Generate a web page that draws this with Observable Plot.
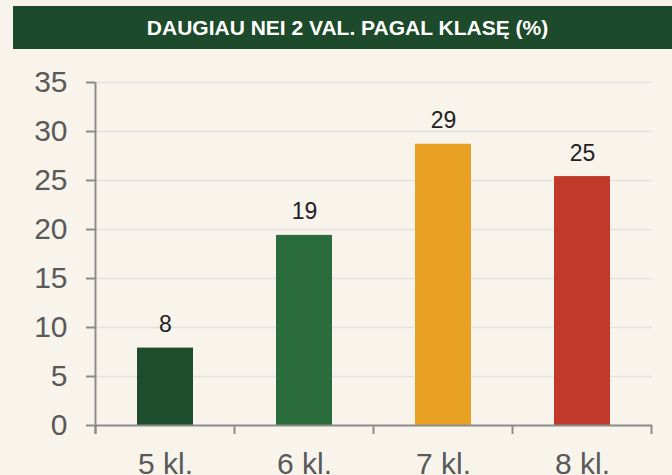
<!DOCTYPE html>
<html>
<head>
<meta charset="utf-8">
<script src="https://cdn.jsdelivr.net/npm/d3@7"></script>
<script src="https://cdn.jsdelivr.net/npm/@observablehq/plot@0.6"></script>
<style>
  html, body { margin: 0; padding: 0; background: #f8f4ec; }
  body { width: 672px; height: 475px; overflow: hidden; font-family: "Liberation Sans", Arial, sans-serif; }
  #banner {
    margin: 6px 0 0 13px; height: 43px; background: #1d4a2a; color: #fff;
    font-weight: bold; font-size: 21px; display: flex; align-items: center;
    justify-content: center; padding-left: 10px; box-sizing: border-box;
  }
  #chart svg { display: block; }
</style>
</head>
<body>
<div id="banner">DAUGIAU NEI 2 VAL. PAGAL KLASĘ (%)</div>
<div id="chart"></div>
<script>
const categories = ["5 kl.", "6 kl.", "7 kl.", "8 kl."];
const values = [7.9, 19.4, 28.7, 25.4];
const valueLabels = ["8", "19", "29", "25"];
const barColors = ["#1e4d2b", "#2b6c3d", "#e8a122", "#c0392b"];
const yTicks = [0, 5, 10, 15, 20, 25, 30, 35];

const data = categories.map((c, i) => ({cat: c, value: values[i], label: valueLabels[i]}));

const axisColor = "#8c8c8c";
const textColor = "#595959";

const xBoundaryTicks = (index, scales, vals, dims) => {
  const x = scales.x;
  const step = typeof x.step === "function" ? x.step() : (dims.width - dims.marginLeft - dims.marginRight) / categories.length;
  const bw = typeof x.bandwidth === "function" ? x.bandwidth() : step * 0.4;
  const gap = (step - bw) / 2;
  const bounds = categories.map(c => x(c) - gap);
  bounds.push(x(categories[categories.length - 1]) + bw + gap);
  const y0 = scales.y(0);
  const g = d3.create("svg:g").attr("stroke", axisColor).attr("stroke-width", 2);
  g.selectAll("line").data(bounds).join("line")
    .attr("x1", d => d).attr("x2", d => d)
    .attr("y1", y0).attr("y2", y0 + 9);
  // extend y-axis line down to tick length
  g.append("line")
    .attr("x1", bounds[0]).attr("x2", bounds[0])
    .attr("y1", scales.y(yTicks[yTicks.length - 1])).attr("y2", y0 + 9);
  return g.node();
};

const chart = Plot.plot({
  width: 672,
  height: 426,
  marginTop: 33,
  marginBottom: 50,
  marginLeft: 95,
  marginRight: 20,
  style: {background: "transparent", fontFamily: "'Liberation Sans', Arial, sans-serif"},
  x: {domain: categories, paddingInner: 0.6, paddingOuter: 0.3, label: null},
  y: {domain: [0, 35], label: null},
  color: {domain: categories, range: barColors},
  marks: [
    Plot.gridY(yTicks, {stroke: "#e2e2e2", strokeOpacity: 1, strokeWidth: 1.5}),
    Plot.barY(data, {x: "cat", y: "value", fill: "cat"}),
    Plot.ruleY([0], {stroke: axisColor, strokeWidth: 2}),
    Plot.axisY(yTicks, {tickSize: 9, tickPadding: 19, fontSize: 30, stroke: axisColor, strokeWidth: 2, fill: textColor, label: null}),
    Plot.axisX({tickSize: 0, tickPadding: 27, fontSize: 30, fill: textColor, label: null}),
    xBoundaryTicks,
    Plot.text(data, {x: "cat", y: "value", text: "label", dy: -16, lineAnchor: "bottom", fontSize: 23, fill: "#222"})
  ]
});
document.getElementById("chart").appendChild(chart);
</script>
</body>
</html>
